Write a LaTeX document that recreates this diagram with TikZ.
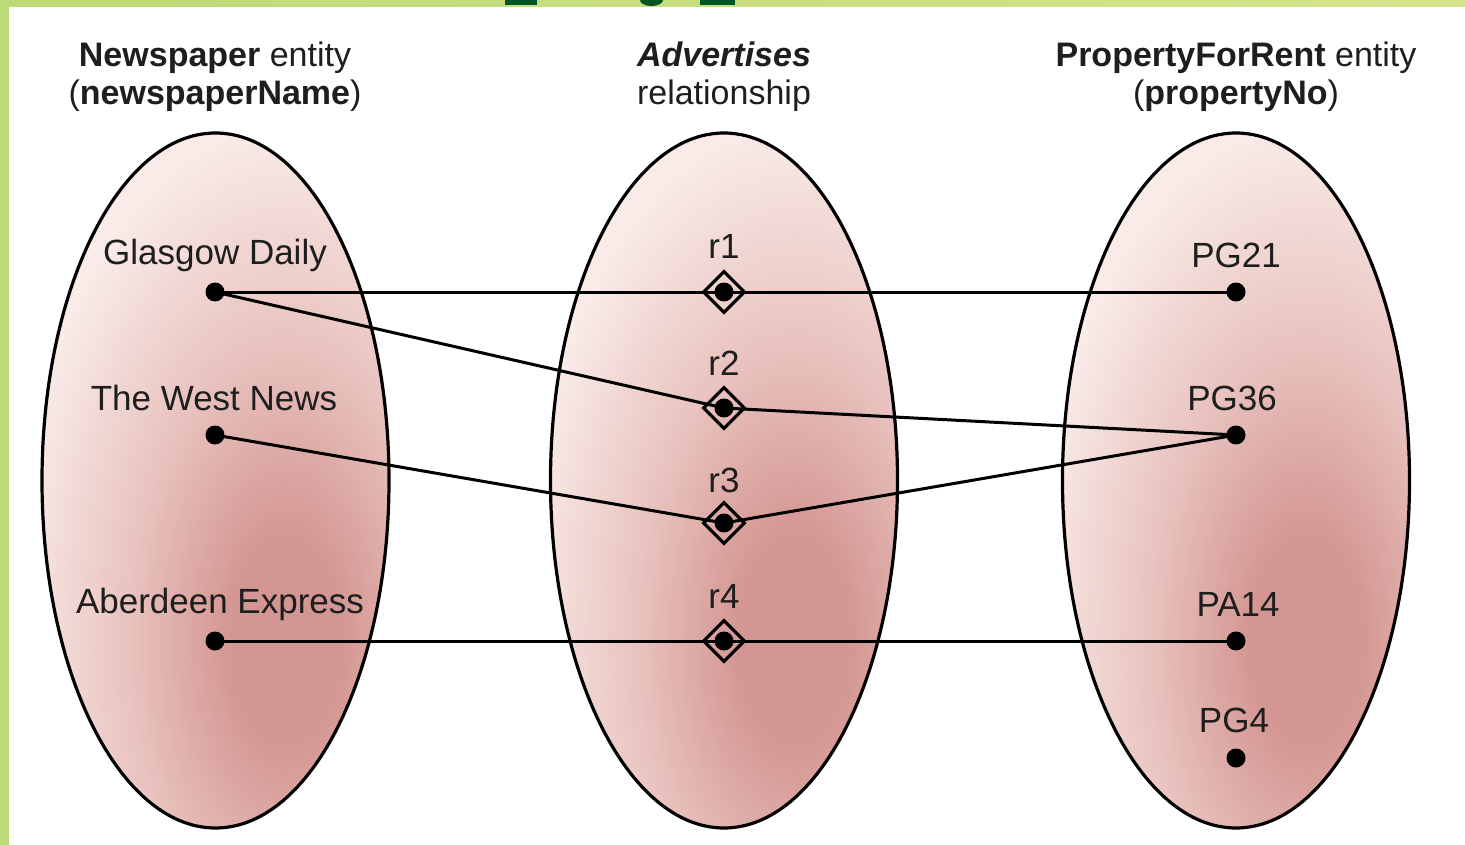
\documentclass[tikz,border=0pt]{standalone}
\usepackage{fontspec}
\setmainfont{Liberation Sans}
\usetikzlibrary{shapes.geometric}
\definecolor{gdark}{RGB}{188,218,118}
\definecolor{glight}{RGB}{212,228,140}
\definecolor{gtext}{RGB}{0,85,35}
\definecolor{pdark}{RGB}{212,150,146}
\definecolor{pmid}{RGB}{232,194,190}
\definecolor{plight}{RGB}{249,235,232}
\definecolor{txt}{RGB}{30,30,30}
\pgfdeclareradialshading{pinkglow}{\pgfpoint{0bp}{0bp}}{color(0bp)=(pdark); color(4.5bp)=(pdark); color(13bp)=(pmid); color(23bp)=(plight); color(50bp)=(plight)}
\begin{document}
\begin{tikzpicture}[x=1pt,y=-1pt,
  lbl/.style={font=\fontsize{35}{40}\selectfont, text=txt, inner sep=0pt},
  hdr/.style={font=\fontsize{34}{38}\selectfont, text=txt, align=center, inner sep=0pt},
  dotnode/.style={circle, fill=black, minimum size=19pt, inner sep=0pt},
  relnode/.style={diamond, draw=black, line width=3.2pt, fill=none, minimum width=42pt, minimum height=42pt, inner sep=0pt},
  conn/.style={line width=3pt, draw=black},
  setell/.style={line width=3.2pt, draw=black}]
\useasboundingbox (0,0) rectangle (1465,845);
\fill[white] (0,0) rectangle (1465,845);
\shade[left color=gdark, right color=glight] (0,0) rectangle (1465,7);
\fill[gdark] (0,0) rectangle (9,845);
% cut-off title fragments
\fill[gtext] (505,0) rectangle (537,5);
\fill[gtext] (640,0) arc[start angle=180, end angle=0, x radius=11.5, y radius=6] -- cycle;
\fill[gtext] (700,0) rectangle (735,5);

% the three sets
\foreach \cx in {215.5,724,1236}{
  \begin{scope}
    \clip (\cx,480.5) ellipse [x radius=173.5, y radius=347.5];
    \shade[shading=pinkglow] (\cx+70,640) ellipse [x radius=300, y radius=560];
  \end{scope}
  \draw[setell] (\cx,480.5) ellipse [x radius=173.5, y radius=347.5];
}

% headers
\node[hdr] (h1) at (215,77) {\textbf{Newspaper} entity\\(\textbf{newspaperName})};
\node[hdr] (h2) at (724,77) {\textbf{\textit{Advertises}}\\relationship};
\node[hdr] (h3) at (1236,77) {\textbf{PropertyForRent} entity\\(\textbf{propertyNo})};

% newspapers
\node[dotnode] (gd) at (215,292) {};
\node[dotnode] (wn) at (215,435) {};
\node[dotnode] (ae) at (215,641) {};
\node[lbl] (gdl) at (215,255) {Glasgow Daily};
\node[lbl] (wnl) at (214,398) {The West News};
\node[lbl] (ael) at (220,604) {Aberdeen Express};

% properties
\node[dotnode] (p21) at (1236,292) {};
\node[dotnode] (p36) at (1236,435) {};
\node[dotnode] (a14) at (1236,641) {};
\node[dotnode] (p4) at (1236,758) {};
\node[lbl] (p21l) at (1236,255) {PG21};
\node[lbl] (p36l) at (1232,398) {PG36};
\node[lbl] (a14l) at (1238,604) {PA14};
\node[lbl] (p4l) at (1234,720) {PG4};

% relationship occurrences
\coordinate (r1) at (724,292);
\coordinate (r2) at (724,408);
\coordinate (r3) at (724,523);
\coordinate (r4) at (724,641);
\node[lbl] (r1l) at (724,246) {r1};
\node[lbl] (r2l) at (724,363) {r2};
\node[lbl] (r3l) at (724,480) {r3};
\node[lbl] (r4l) at (724,596) {r4};

% connectors
\draw[conn] (gd.center) -- (r1) -- (p21.center);
\draw[conn] (gd.center) -- (r2) -- (p36.center);
\draw[conn] (wn.center) -- (r3) -- (p36.center);
\draw[conn] (ae.center) -- (r4) -- (a14.center);

\foreach \r in {r1,r2,r3,r4}{
  \node[relnode] (\r d) at (\r) {};
  \node[dotnode] (\r c) at (\r) {};
}
\end{tikzpicture}
\end{document}
